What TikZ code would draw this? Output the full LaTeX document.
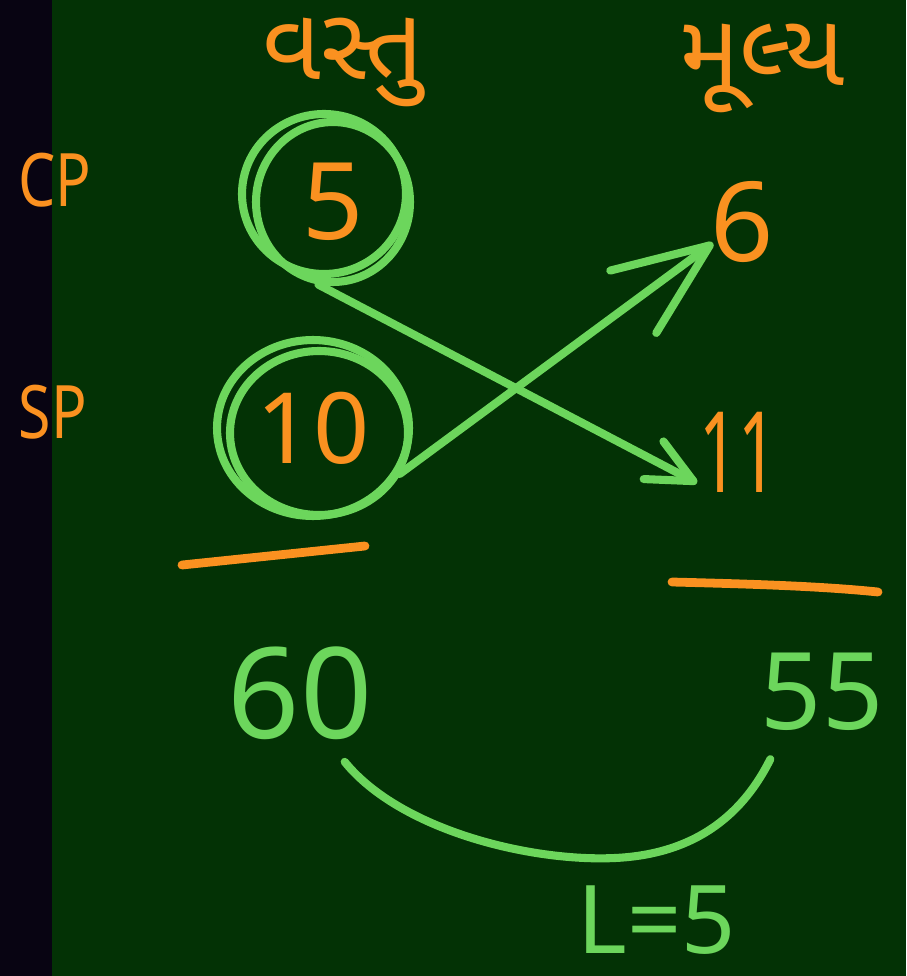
\documentclass[tikz,border=0pt]{standalone}
\usepackage{fontspec}
\setmainfont{Noto Sans}
\newfontfamily\gujfont[Script=Gujarati]{Noto Sans Gujarati UI}
\usepackage{xcolor}
\definecolor{board}{RGB}{3,50,5}
\definecolor{slate}{RGB}{8,4,18}
\definecolor{chalkorange}{RGB}{250,145,32}
\definecolor{chalkgreen}{RGB}{108,214,92}
\usepackage{tikz}
\usetikzlibrary{arrows.meta,positioning,shapes.geometric,calc}

\begin{document}
\begin{tikzpicture}[x=0.02cm, y=-0.02cm]
    % Board and dark left strip
    \fill[board] (0,0) rectangle (906,976);
    \fill[slate] (0,0) rectangle (52,976);
    \useasboundingbox (0,0) rectangle (906,976);

    \tikzset{
        otext/.style={text=chalkorange, inner sep=0pt},
        gtext/.style={text=chalkgreen, inner sep=0pt},
        chalk/.style={draw=chalkgreen, line width=4.6pt, line cap=round, line join=round},
        ring/.style={ellipse, chalk, inner sep=0pt, text=chalkorange},
        uline/.style={draw=chalkorange, line width=5pt, line cap=round}
    }

    % Column headings
    \node[otext, font=\gujfont\fontsize{58}{64}\selectfont] (vastu) at (343,62) {વસ્તુ};
    \node[otext, font=\gujfont\fontsize{58}{64}\selectfont] (mulya) at (762,68) {મૂલ્ય};

    % Row labels
    \node[otext, font=\fontsize{42}{48}\selectfont] (cp) at (55,180) {\scalebox{0.8}[1]{CP}};
    \node[otext, font=\fontsize{42}{48}\selectfont] (sp) at (53,412) {\scalebox{0.8}[1]{SP}};

    % Circled quantities
    \node[ring, minimum width=3.08cm, minimum height=3.2cm, font=\fontsize{61}{66}\selectfont] (c5) at (333,202) {5};
    \draw[chalk] ($(c5.center)+(-9,-8)$) ellipse [x radius=82, y radius=80];
    \node[ring, minimum width=3.84cm, minimum height=3.52cm, font=\fontsize{56}{62}\selectfont] (c10) at (313,428) {10};
    \draw[chalk] ($(c10.center)+(6,5)$) ellipse [x radius=89, y radius=82];

    % Prices
    \node[otext, font=\fontsize{63}{68}\selectfont] (v6) at (742,222) {6};
    \node[otext, font=\fontsize{64}{70}\selectfont] (v11) at (738,452) {\scalebox{0.6}[1]{11}};
    \coordinate (tip6) at (713,243);
    \coordinate (tip11) at (697,483);

    % Crossing arrows
    \draw[chalk, -{Straight Barb[round, length=0.9cm, width=0.85cm]}] (c5.-100) -- (tip11);
    \draw[chalk, -{Straight Barb[round, length=1.9cm, width=1.55cm]}] (c10.-28) -- (tip6);

    % Totals
    \draw[uline] (182,565) -- (365,546);
    \draw[uline] (672,582) .. controls (750,584) and (820,586) .. (878,592);
    \node[gtext, font=\fontsize{72}{78}\selectfont] (n60) at (300,693) {60};
    \node[gtext, font=\fontsize{61}{66}\selectfont] (n55) at (822,692) {55};

    % Loss bracket
    \coordinate (arcL) at ($(n60.south east)+(-28,22)$);
    \coordinate (arcR) at ($(n55.south west)+(10,28)$);
    \draw[chalk] (arcL) .. controls (400,830) and (530,862) .. (615,858)
        .. controls (700,854) and (745,810) .. (arcR);
    \node[gtext, font=\fontsize{54}{60}\selectfont] (loss) at (657,920) {L=5};
\end{tikzpicture}
\end{document}
